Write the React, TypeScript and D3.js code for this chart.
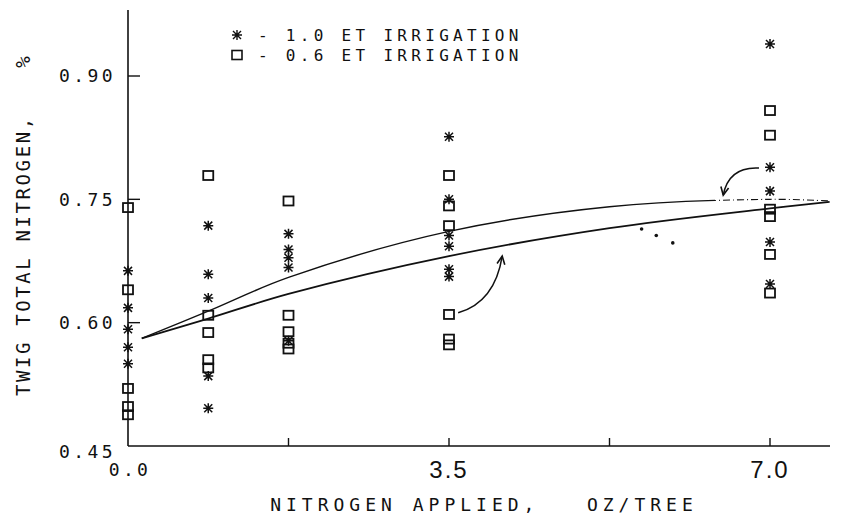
import { useEffect, useRef } from "react";
import * as d3 from "d3";

// nitrogen rates (oz/tree) where samples were taken
const rates = [0, 0.875, 1.75, 3.5, 7.0];

// twig total N (%) per rate, 1.0 ET irrigation (asterisks)
const fullEtValues = [
    [0.663, 0.618, 0.592, 0.570, 0.550],
    [0.718, 0.659, 0.630, 0.535, 0.496],
    [0.708, 0.689, 0.679, 0.667, 0.578],
    [0.826, 0.750, 0.706, 0.693, 0.665, 0.656],
    [0.939, 0.789, 0.760, 0.698, 0.647],
];

// twig total N (%) per rate, 0.6 ET irrigation (squares)
const partEtValues = [
    [0.740, 0.640, 0.520, 0.498, 0.488],
    [0.779, 0.609, 0.588, 0.555, 0.545],
    [0.748, 0.609, 0.589, 0.575, 0.568],
    [0.779, 0.742, 0.718, 0.610, 0.580, 0.573],
    [0.858, 0.828, 0.738, 0.729, 0.683, 0.636],
];

// fitted response curves
const curveX = [0.15, 0.875, 1.75, 3.5, 5.25, 7.0, 7.65];
const fullEtCurve = [0.581, 0.614, 0.655, 0.711, 0.741, 0.750, 0.748];
const partEtCurve = [0.581, 0.605, 0.635, 0.681, 0.715, 0.739, 0.747];

const yTicks = [0.45, 0.60, 0.75, 0.90];
const xTicks = [1.75, 3.5, 5.25, 7.0];
const xLabels = [
    { v: 0, t: "0.0", big: false },
    { v: 3.5, t: "3.5", big: true },
    { v: 7.0, t: "7.0", big: true },
];

// stray specks on the print
const specks = [[5.6, 0.714], [5.76, 0.706], [5.94, 0.697]];

const MONO = "'DejaVu Sans Mono', monospace";

const App = () => {
    const svgRef = useRef(null);
    const width = 842;
    const height = 520;

    useEffect(() => {
        const svg = d3.select(svgRef.current);
        svg.selectAll("*").remove();

        const x = d3.scaleLinear().domain([0, 7]).range([128, 770]);
        const y = d3.scaleLinear().domain([0.45, 0.90]).range([446, 76]);
        const ink = "#111";

        const g = svg.append("g");

        // axes frame
        g.append("line").attr("x1", x(0)).attr("x2", 830)
            .attr("y1", y(0.45)).attr("y2", y(0.45))
            .attr("stroke", ink).attr("stroke-width", 1.6);
        g.append("line").attr("x1", x(0)).attr("x2", x(0))
            .attr("y1", 10).attr("y2", y(0.45))
            .attr("stroke", ink).attr("stroke-width", 1.6);

        g.selectAll(".xt").data(xTicks).enter().append("line")
            .attr("x1", d => x(d)).attr("x2", d => x(d))
            .attr("y1", y(0.45)).attr("y2", y(0.45) - 8)
            .attr("stroke", ink).attr("stroke-width", 1.4);
        g.selectAll(".yt").data(yTicks.slice(1)).enter().append("line")
            .attr("x1", x(0)).attr("x2", x(0) + 12)
            .attr("y1", d => y(d)).attr("y2", d => y(d))
            .attr("stroke", ink).attr("stroke-width", 1.4);

        // tick labels
        g.selectAll(".yl").data(yTicks).enter().append("text")
            .attr("x", 116)
            .attr("y", d => y(d) + (d === 0.45 ? 6 : 0))
            .attr("dy", "0.36em")
            .attr("text-anchor", "end")
            .attr("font-family", MONO).attr("font-size", 18)
            .attr("letter-spacing", 3.4)
            .attr("fill", ink)
            .text(d => d.toFixed(2));

        g.selectAll(".xl").data(xLabels).enter().append("text")
            .attr("x", d => x(d.v) + (d.big ? 0 : 2))
            .attr("y", d => d.big ? 478 : 476)
            .attr("text-anchor", "middle")
            .attr("font-family", d => d.big ? "'Liberation Sans', sans-serif" : MONO)
            .attr("font-size", d => d.big ? 24 : 18)
            .attr("letter-spacing", d => d.big ? 2 : 3.4)
            .attr("fill", ink)
            .text(d => d.t);

        // axis titles
        g.append("text")
            .attr("x", 484).attr("y", 511)
            .attr("text-anchor", "middle")
            .attr("font-family", MONO).attr("font-size", 18)
            .attr("letter-spacing", 5)
            .attr("xml:space", "preserve")
            .attr("fill", ink)
            .text("NITROGEN APPLIED,   OZ/TREE");

        g.append("text")
            .attr("transform", "translate(30,396) rotate(-90)")
            .attr("font-family", MONO).attr("font-size", 19)
            .attr("letter-spacing", 2.6)
            .attr("fill", ink)
            .text("TWIG TOTAL NITROGEN,");
        g.append("text")
            .attr("transform", "translate(30,62) rotate(-90)")
            .attr("text-anchor", "middle")
            .attr("font-family", MONO).attr("font-size", 19)
            .attr("fill", ink)
            .text("%");

        // markers
        const asterisk = (cx, cy) =>
            `M${cx},${cy - 5}L${cx},${cy + 5}M${cx - 5},${cy}L${cx + 5},${cy}` +
            `M${cx - 4},${cy - 4}L${cx + 4},${cy + 4}M${cx - 4},${cy + 4}L${cx + 4},${cy - 4}`;

        const fullPts = rates.flatMap((r, i) => fullEtValues[i].map(v => [r, v]));
        const partPts = rates.flatMap((r, i) => partEtValues[i].map(v => [r, v]));

        g.selectAll(".ast").data(fullPts).enter().append("path")
            .attr("d", d => asterisk(x(d[0]), y(d[1])))
            .attr("stroke", ink).attr("stroke-width", 1.5).attr("fill", "none");

        g.selectAll(".sq").data(partPts).enter().append("rect")
            .attr("x", d => x(d[0]) - 5).attr("y", d => y(d[1]) - 4.5)
            .attr("width", 10).attr("height", 9)
            .attr("stroke", ink).attr("stroke-width", 1.8).attr("fill", "none");

        // fitted curves
        const line = d3.line()
            .x(d => x(d[0])).y(d => y(d[1]))
            .curve(d3.curveCatmullRom);

        const fullCurve = curveX.map((v, i) => [v, fullEtCurve[i]]);
        const partCurve = curveX.map((v, i) => [v, partEtCurve[i]]);

        const defs = svg.append("defs");
        defs.append("clipPath").attr("id", "solidPart").append("rect")
            .attr("x", 0).attr("y", 0).attr("width", x(6.4)).attr("height", height);
        defs.append("clipPath").attr("id", "dashPart").append("rect")
            .attr("x", x(6.4)).attr("y", 0).attr("width", width).attr("height", height);

        g.append("path").datum(fullCurve).attr("d", line)
            .attr("clip-path", "url(#solidPart)")
            .attr("stroke", ink).attr("stroke-width", 1.4).attr("fill", "none");
        g.append("path").datum(fullCurve).attr("d", line)
            .attr("clip-path", "url(#dashPart)")
            .attr("stroke", ink).attr("stroke-width", 1.1).attr("fill", "none")
            .attr("stroke-dasharray", "7,3,1,3");
        g.append("path").datum(partCurve).attr("d", line)
            .attr("stroke", ink).attr("stroke-width", 1.8).attr("fill", "none");

        // curved arrows pointing at each curve
        const arrow = (from, ctrl, to) => {
            const [x0, y0] = [x(from[0]), y(from[1])];
            const [cx, cy] = [x(ctrl[0]), y(ctrl[1])];
            const [x1, y1] = [x(to[0]), y(to[1])];
            const p = d3.path();
            p.moveTo(x0, y0);
            p.quadraticCurveTo(cx, cy, x1, y1);
            const a = Math.atan2(y1 - cy, x1 - cx);
            const hl = 9;
            const h = d3.path();
            h.moveTo(x1 - hl * Math.cos(a - 0.45), y1 - hl * Math.sin(a - 0.45));
            h.lineTo(x1, y1);
            h.lineTo(x1 - hl * Math.cos(a + 0.45), y1 - hl * Math.sin(a + 0.45));
            g.append("path").attr("d", p.toString())
                .attr("stroke", ink).attr("stroke-width", 1.5).attr("fill", "none");
            g.append("path").attr("d", h.toString())
                .attr("stroke", ink).attr("stroke-width", 1.6).attr("fill", "none");
        };
        arrow([6.88, 0.788], [6.55, 0.79], [6.49, 0.755]);
        arrow([3.6, 0.612], [4.0, 0.625], [4.08, 0.681]);

        g.selectAll(".speck").data(specks).enter().append("circle")
            .attr("cx", d => x(d[0])).attr("cy", d => y(d[1]))
            .attr("r", 1.8).attr("fill", ink);

        // legend
        const legend = [
            { kind: "ast", label: "- 1.0 ET IRRIGATION", yy: 35 },
            { kind: "sq", label: "- 0.6 ET IRRIGATION", yy: 55 },
        ];
        legend.forEach(l => {
            if (l.kind === "ast") {
                g.append("path").attr("d", asterisk(237, l.yy))
                    .attr("stroke", ink).attr("stroke-width", 1.4).attr("fill", "none");
            } else {
                g.append("rect").attr("x", 232).attr("y", l.yy - 4.5)
                    .attr("width", 10).attr("height", 9)
                    .attr("stroke", ink).attr("stroke-width", 1.6).attr("fill", "none");
            }
            g.append("text")
                .attr("x", 258).attr("y", l.yy).attr("dy", "0.36em")
                .attr("font-family", MONO).attr("font-size", 16)
                .attr("letter-spacing", 4.3)
                .attr("fill", ink)
                .text(l.label);
        });
    }, [height, width]);

    return (
        <svg ref={svgRef} width={width} height={height}
            style={{ position: "absolute", left: 0, top: 0, background: "#fff" }}></svg>
    );
};

export default App;
